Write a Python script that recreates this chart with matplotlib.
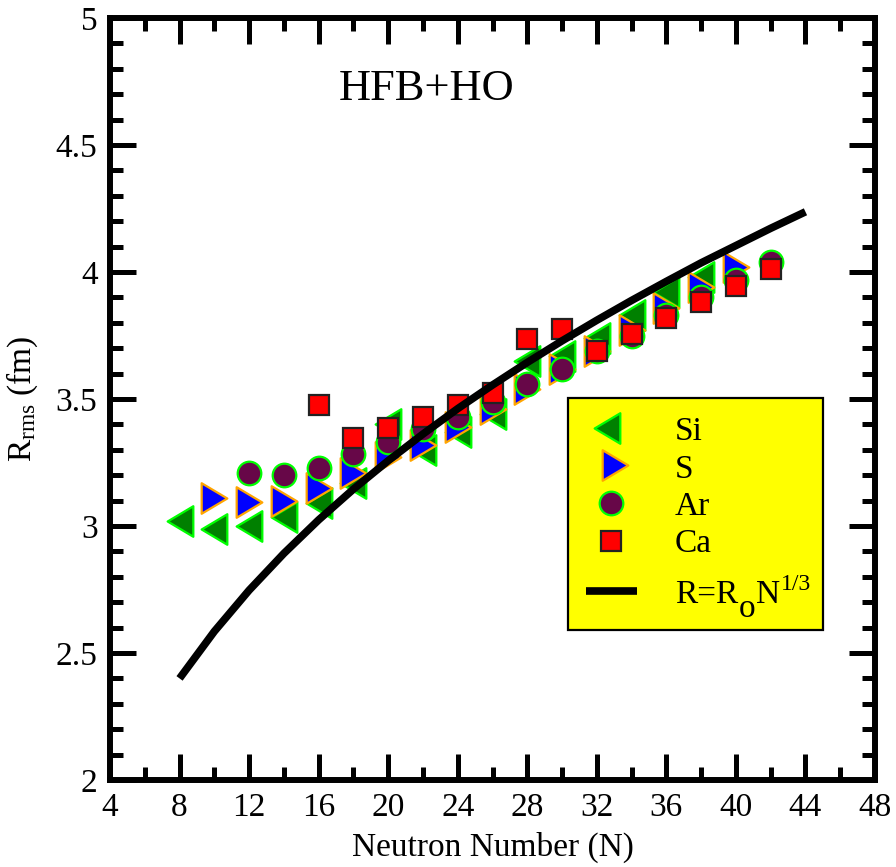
import matplotlib
matplotlib.use("Agg")
import matplotlib.pyplot as plt
from matplotlib.path import Path
from matplotlib.lines import Line2D
from matplotlib.patches import Rectangle
from matplotlib.text import Annotation
from matplotlib.ticker import MultipleLocator, FuncFormatter

plt.rcParams['font.family'] = ['Liberation Serif', 'DejaVu Serif']
plt.rcParams['mathtext.fontset'] = 'custom'
plt.rcParams['mathtext.rm'] = 'Liberation Serif'
plt.rcParams['mathtext.it'] = 'Liberation Serif:italic'
plt.rcParams['mathtext.bf'] = 'Liberation Serif:bold'

# ---------------- data ----------------
si_N = [8, 10, 12, 14, 16, 18, 20, 22, 24, 26, 28, 30, 32, 34, 36, 38]
si_R = [3.02, 2.99, 3.00, 3.035, 3.09, 3.17, 3.40, 3.30, 3.37, 3.44, 3.65, 3.67, 3.74, 3.83, 3.92, 3.98]

s_N = [10, 12, 14, 16, 18, 20, 22, 24, 26, 28, 30, 32, 34, 36, 38, 40]
s_R = [3.11, 3.095, 3.10, 3.15, 3.21, 3.27, 3.32, 3.39, 3.46, 3.54, 3.62, 3.69, 3.77, 3.86, 3.94, 4.02]

ar_N = [12, 14, 16, 18, 20, 22, 24, 26, 28, 30, 32, 34, 36, 38, 40, 42]
ar_R = [3.21, 3.20, 3.23, 3.285, 3.33, 3.38, 3.43, 3.49, 3.56, 3.62, 3.69, 3.75, 3.83, 3.90, 3.97, 4.04]

ca_N = [16, 18, 20, 22, 24, 26, 28, 30, 32, 34, 36, 38, 40, 42]
ca_R = [3.476, 3.346, 3.386, 3.43, 3.476, 3.524, 3.735, 3.775, 3.69, 3.755, 3.82, 3.88, 3.945, 4.01]

line_N = [8, 10, 12, 14, 16, 18, 20, 22, 24, 26, 28, 30, 32, 34, 36, 38, 40, 42, 44]
line_R = [2.400, 2.585, 2.747, 2.892, 3.024, 3.145, 3.257, 3.362, 3.462, 3.555, 3.644,
          3.729, 3.810, 3.888, 3.963, 4.036, 4.104, 4.172, 4.237]

x_ticks = [4, 8, 12, 16, 20, 24, 28, 32, 36, 40, 44, 48]
y_ticks = [2, 2.5, 3, 3.5, 4, 4.5, 5]

labels = ['Si', 'S', 'Ar', 'Ca']
line_label_parts = ['R=R', 'o', 'N', '1/3']

# ---------------- styles ----------------
tri_left = Path([(-0.84, 0), (0.84, 1), (0.84, -1), (-0.84, 0)],
                [Path.MOVETO, Path.LINETO, Path.LINETO, Path.CLOSEPOLY])
tri_right = Path([(0.84, 0), (-0.84, 1), (-0.84, -1), (0.84, 0)],
                 [Path.MOVETO, Path.LINETO, Path.LINETO, Path.CLOSEPOLY])

maroon = '#670748'
sty_si = dict(marker=tri_left, markersize=22, markerfacecolor='#008000',
              markeredgecolor='#00ff00', markeredgewidth=1.6, linestyle='none')
sty_s = dict(marker=tri_right, markersize=22, markerfacecolor='#0000ff',
             markeredgecolor='#ffa500', markeredgewidth=1.6, linestyle='none')
sty_ar = dict(marker='o', markersize=17, markerfacecolor=maroon,
              markeredgecolor='#00ff00', markeredgewidth=1.6, linestyle='none')
sty_ca = dict(marker='s', markersize=15, markerfacecolor='#ff0000',
              markeredgecolor='#222222', markeredgewidth=1.6, linestyle='none')
sty_line = dict(color='black', linewidth=5.5, solid_capstyle='butt')

W, H = 896, 867
fig = plt.figure(figsize=(W / 100, H / 100), dpi=100)
ax = fig.add_axes([110 / W, 1 - 780 / H, (875 - 110) / W, (780 - 18) / H])


def fx(x):
    return x / W


def fy(y):
    return 1 - y / H


ax.plot(si_N, si_R, zorder=3, **sty_si)
ax.plot(s_N, s_R, zorder=4, **sty_s)
ax.plot(ar_N, ar_R, zorder=5, **sty_ar)
ax.plot(ca_N, ca_R, zorder=6, **sty_ca)
ax.plot(line_N, line_R, zorder=7, **sty_line)

ax.set_xlim(4, 48)
ax.set_ylim(2, 5)
ax.set_xticks(x_ticks)
ax.set_yticks(y_ticks)
ax.xaxis.set_minor_locator(MultipleLocator(2))
ax.yaxis.set_minor_locator(MultipleLocator(0.1))
ax.yaxis.set_major_formatter(FuncFormatter(lambda v, p: ('%g' % v)))
ax.tick_params(which='both', direction='in', top=True, right=True, width=3.6,
               labelsize=24, color='black')
ax.tick_params(which='major', length=19, pad=9)
ax.tick_params(which='minor', length=9.5)
for sp in ax.spines.values():
    sp.set_linewidth(4.3)

ax.set_xlabel('Neutron Number (N)', fontsize=24, labelpad=6)
ax.set_ylabel(r'R$_{\rm rms}$ (fm)', fontsize=24, labelpad=11)

fig.text(fx(427), fy(100), 'HFB+HO', fontsize=32, ha='center', va='baseline')

# ---------------- legend (drawn by hand to match the box layout) ----------------
fig.add_artist(Rectangle((fx(568), fy(630)), fx(823) - fx(568), fy(398) - fy(630),
                         transform=fig.transFigure, facecolor='#ffff00',
                         edgecolor='black', linewidth=1.6, zorder=20))
leg_marker_pos = [(607, 428), (615, 465), (611, 503), (611, 541)]
leg_styles = [sty_si, sty_s, sty_ar, sty_ca]
leg_baselines = [440, 478, 515, 552]
for (mx, my), st, lab, bl in zip(leg_marker_pos, leg_styles, labels, leg_baselines):
    fig.add_artist(Line2D([fx(mx)], [fy(my)], transform=fig.transFigure, zorder=21, **st))
    fig.text(fx(675), fy(bl), lab, fontsize=24, ha='left', va='baseline', zorder=22)
fig.add_artist(Line2D([fx(586), fx(637)], [fy(591), fy(591)], transform=fig.transFigure,
                      zorder=21, **sty_line))

# R=R_o N^(1/3), pieces chained one after another
t1 = fig.text(fx(675), fy(603), line_label_parts[0], fontsize=24, ha='left',
              va='baseline', zorder=22)
t2 = Annotation(line_label_parts[1], xy=(1, 0), xycoords=t1, xytext=(0.5, -5),
                textcoords='offset points', fontsize=24, ha='left', va='baseline',
                zorder=22)
fig.add_artist(t2)
t3 = Annotation(line_label_parts[2], xy=(1, 0), xycoords=t2, xytext=(0.3, 15),
                textcoords='offset points', fontsize=24, ha='left', va='baseline',
                zorder=22)
fig.add_artist(t3)
t4 = Annotation(line_label_parts[3], xy=(1, 0), xycoords=t3, xytext=(0.3, 14.4),
                textcoords='offset points', fontsize=17, ha='left', va='baseline',
                zorder=22)
fig.add_artist(t4)

fig.savefig('out.png', dpi=100)
